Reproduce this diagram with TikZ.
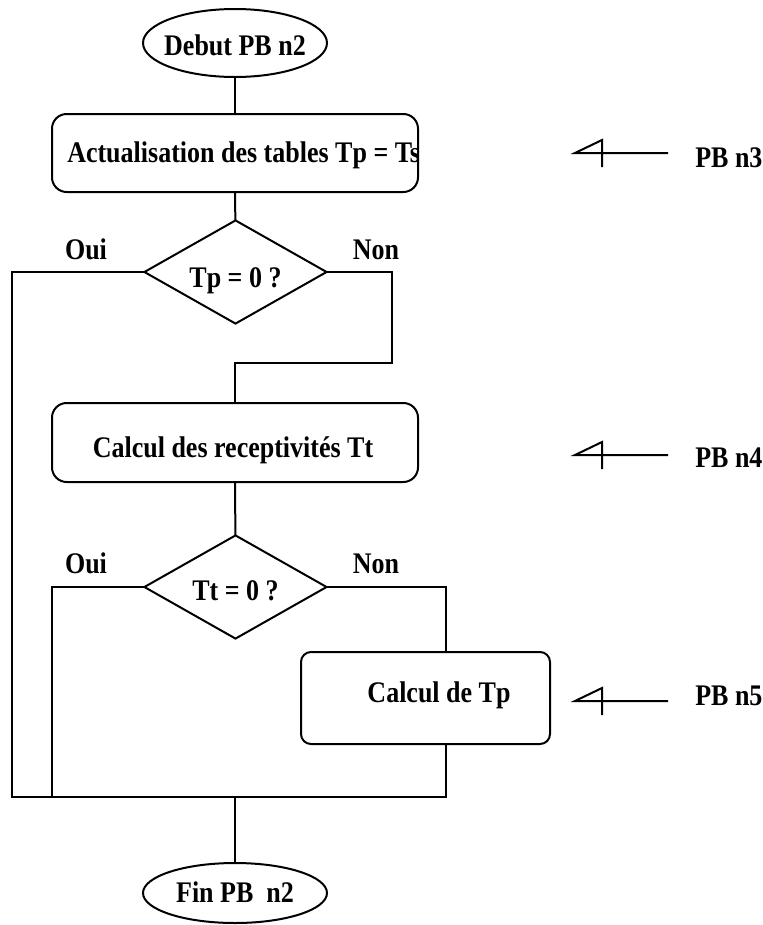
\documentclass[tikz,border=0pt]{standalone}
\usepackage{fontspec}
\usepackage{graphicx}
\setmainfont{Liberation Serif}
\usetikzlibrary{shapes.geometric}
\newcommand{\tx}[1]{\scalebox{1}[1.15]{#1}}
\begin{document}
\begin{tikzpicture}[x=0.75pt,y=-0.75pt,
  every node/.style={font=\bfseries\fontsize{19.5}{22}\selectfont},
  ln/.style={line width=1.5pt,line cap=rect},
  procbox/.style={draw,line width=1.5pt,rectangle,rounded corners=11pt,inner sep=0pt},
  decision/.style={draw,line width=1.5pt,diamond,inner sep=0pt,minimum width=137.25pt,minimum height=78pt},
  termin/.style={draw,line width=1.5pt,ellipse,inner sep=0pt,minimum width=138pt},
  lbl/.style={anchor=base,inner sep=0pt},
  pbarrow/.style={line width=1.5pt}
]
\useasboundingbox (0,0) rectangle (763,925);
\fill[white] (0,0) rectangle (763,925);

% terminals
\node[termin,minimum height=51pt] (e1) at (235,43) {};
\node[lbl] (te1) at (235,55) {\tx{Debut PB n2}};
\node[termin,minimum height=45pt] (e2) at (235,893) {};
\node[lbl] (te2) at (235,902) {\tx{Fin PB\ \ n2}};

% boxes
\node[procbox,minimum width=274.5pt,minimum height=58.5pt] (b1) at (235,153) {};
\begin{scope}
\clip (52,114) rectangle (417,192);
\node[anchor=base west,inner sep=0pt] (t1) at (67,162) {\tx{Actualisation des tables Tp = Ts}};
\end{scope}
\node[procbox,minimum width=274.5pt,minimum height=59.25pt] (b2) at (235,442.5) {};
\node[lbl] (t2) at (233,457) {\tx{Calcul des receptivités Tt}};
\node[procbox,rounded corners=7.5pt,minimum width=186.75pt,minimum height=69pt] (b3) at (425.5,698) {};
\node[lbl] (t3) at (439,702) {\tx{Calcul de Tp}};

% decisions
\node[decision] (d1) at (235.5,272) {};
\node[lbl] (td1) at (235.5,287) {\tx{Tp = 0 ?}};
\node[decision] (d2) at (235.5,587) {};
\node[lbl] (td2) at (235.5,600) {\tx{Tt = 0 ?}};

\node[lbl] (oui1) at (86,259) {\tx{Oui}};
\node[lbl] (non1) at (376,259) {\tx{Non}};
\node[lbl] (oui2) at (86,573) {\tx{Oui}};
\node[lbl] (non2) at (376,573) {\tx{Non}};

% helper coordinates
\coordinate (bl) at (12,797);
\coordinate (bl2) at (52,797);
\coordinate (br) at (446,797);
\coordinate (bm) at (235,797);
\coordinate (n1) at (392,363);
\coordinate (c3) at (446,0);

% connectors
\draw[ln] (e1) -- (b1);
\draw[ln] (b1) -- (d1);
\draw[ln] (d1.west) -| (bl);
\draw[ln] (d1.east) -| (n1) -| (b2.north);
\draw[ln] (b2) -- (d2);
\draw[ln] (d2.west) -| (bl2);
\draw[ln] (d2.east) -| (b3.north -| c3);
\draw[ln] (b3.south -| c3) -- (br);
\draw[ln] (bl) -- (br);
\draw[ln] (bm) -- (e2);

% PB arrows
\foreach \n/\y/\by in {3/153/167, 4/455/467, 5/701/705}{
  \coordinate (tip\n) at (575,\y);
  \coordinate (tail\n) at (668,\y);
  \coordinate (ht\n) at (602,\y-13);
  \coordinate (hb\n) at (602,\y+14);
  \draw[pbarrow] (tail\n) -- (tip\n) -- (ht\n) -- (hb\n);
  \node[anchor=base west,inner sep=0pt] (pb\n) at (695,\by) {\tx{PB n\n}};
}
\end{tikzpicture}
\end{document}
